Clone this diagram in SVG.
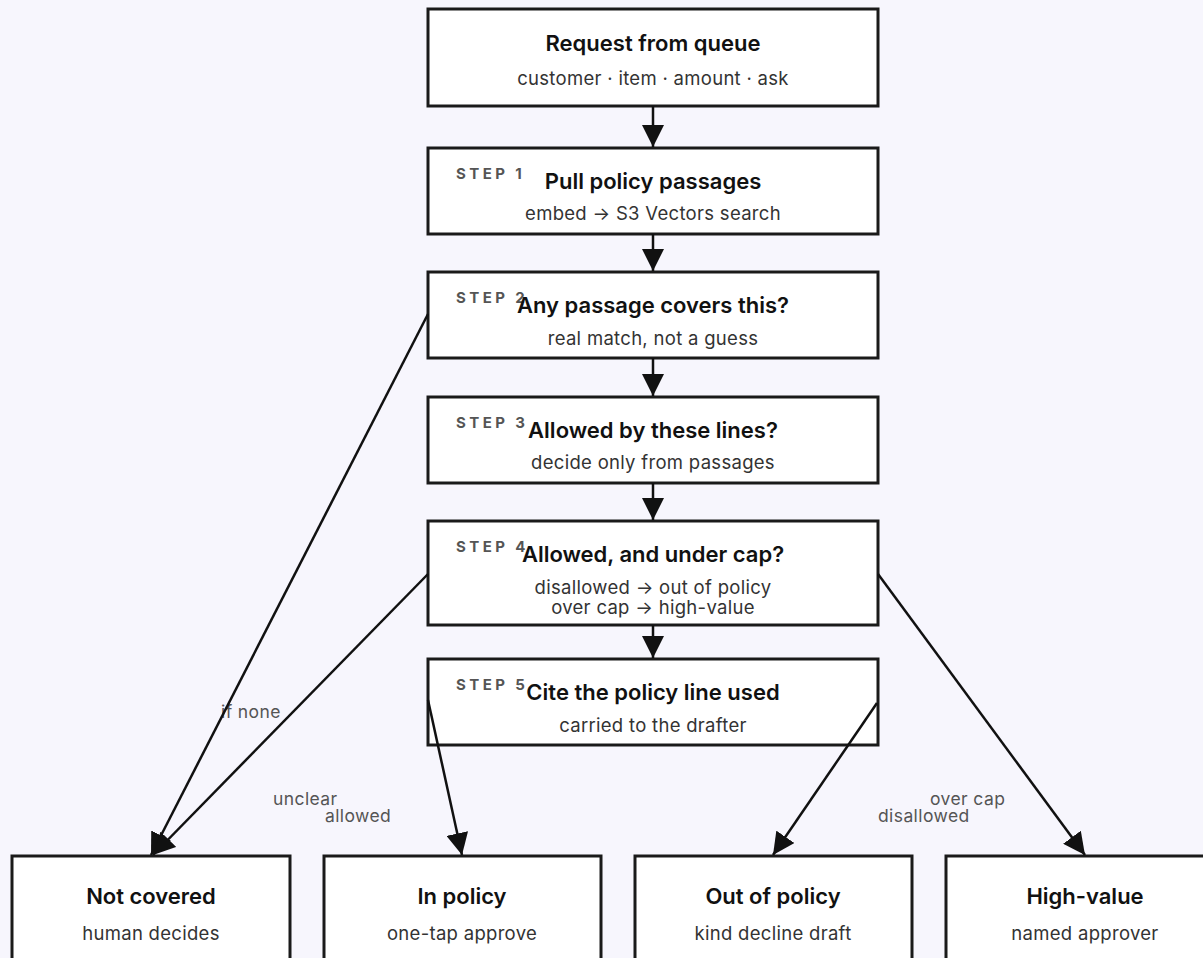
<svg xmlns="http://www.w3.org/2000/svg" width="1203" height="958" viewBox="0 0 1203 958">
  <style>
    .box { fill: #ffffff; stroke: #1a1a1a; stroke-width: 3; }
    .title { font-family: Inter, "Liberation Sans", sans-serif; font-size: 22px; font-weight: 600; fill: #111111; text-anchor: middle; }
    .sub { font-family: Inter, "Liberation Sans", sans-serif; font-size: 18.5px; fill: #333333; text-anchor: middle; letter-spacing: 0.3px; }
    .step { font-family: Inter, "Liberation Sans", sans-serif; font-size: 15px; font-weight: 700; fill: #555555; letter-spacing: 3.4px; }
    .edge { fill: none; stroke: #111111; stroke-width: 2.5; marker-end: url(#arrow); }
    .elabel { font-family: Inter, "Liberation Sans", sans-serif; font-size: 17.5px; fill: #555555; letter-spacing: 0.4px; }
  </style>
  <defs>
    <marker id="arrow" markerUnits="userSpaceOnUse" markerWidth="24" markerHeight="22" refX="22" refY="11" orient="auto">
      <path d="M0,0 L22,11 L0,22 Z" fill="#111111"/>
    </marker>
  </defs>
  <rect width="1203" height="958" fill="#f7f6fd"/>

  <g id="request">
    <rect class="box" x="428" y="9" width="450" height="97"/>
    <text class="title" x="653" y="51">Request from queue</text>
    <text class="sub" x="653" y="85">customer · item · amount · ask</text>
  </g>
  <g id="step1">
    <rect class="box" x="428" y="148" width="450" height="86"/>
    <text class="step" x="456" y="179">STEP 1</text>
    <text class="title" x="653" y="189">Pull policy passages</text>
    <text class="sub" x="653" y="220">embed → S3 Vectors search</text>
  </g>
  <g id="step2">
    <rect class="box" x="428" y="272" width="450" height="86"/>
    <text class="step" x="456" y="303">STEP 2</text>
    <text class="title" x="653" y="313">Any passage covers this?</text>
    <text class="sub" x="653" y="345">real match, not a guess</text>
  </g>
  <g id="step3">
    <rect class="box" x="428" y="397" width="450" height="86"/>
    <text class="step" x="456" y="428">STEP 3</text>
    <text class="title" x="653" y="438">Allowed by these lines?</text>
    <text class="sub" x="653" y="469">decide only from passages</text>
  </g>
  <g id="step4">
    <rect class="box" x="428" y="521" width="450" height="104"/>
    <text class="step" x="456" y="552">STEP 4</text>
    <text class="title" x="653" y="562">Allowed, and under cap?</text>
    <text class="sub" x="653" y="594">disallowed → out of policy</text>
    <text class="sub" x="653" y="614">over cap → high-value</text>
  </g>
  <g id="step5">
    <rect class="box" x="428" y="659" width="450" height="86"/>
    <text class="step" x="456" y="690">STEP 5</text>
    <text class="title" x="653" y="700">Cite the policy line used</text>
    <text class="sub" x="653" y="732">carried to the drafter</text>
  </g>

  <g id="not-covered">
    <rect class="box" x="12" y="856" width="278" height="120"/>
    <text class="title" x="151" y="904">Not covered</text>
    <text class="sub" x="151" y="940">human decides</text>
  </g>
  <g id="in-policy">
    <rect class="box" x="324" y="856" width="277" height="120"/>
    <text class="title" x="462" y="904">In policy</text>
    <text class="sub" x="462" y="940">one-tap approve</text>
  </g>
  <g id="out-of-policy">
    <rect class="box" x="635" y="856" width="277" height="120"/>
    <text class="title" x="773" y="904">Out of policy</text>
    <text class="sub" x="773" y="940">kind decline draft</text>
  </g>
  <g id="high-value">
    <rect class="box" x="946" y="856" width="278" height="120"/>
    <text class="title" x="1085" y="904">High-value</text>
    <text class="sub" x="1085" y="940">named approver</text>
  </g>

  <g id="connectors">
    <text class="elabel" x="221" y="718">if none</text>
    <text class="elabel" x="273" y="805">unclear</text>
    <text class="elabel" x="325" y="822">allowed</text>
    <text class="elabel" x="930" y="805">over cap</text>
    <text class="elabel" x="878" y="822">disallowed</text>
    <line class="edge" x1="653" y1="106" x2="653" y2="147"/>
    <line class="edge" x1="653" y1="234" x2="653" y2="271"/>
    <line class="edge" x1="653" y1="358" x2="653" y2="396"/>
    <line class="edge" x1="653" y1="483" x2="653" y2="520"/>
    <line class="edge" x1="653" y1="625" x2="653" y2="658"/>
    <line class="edge" x1="428" y1="314" x2="151" y2="855"/>
    <line class="edge" x1="428" y1="574" x2="153" y2="855"/>
    <line class="edge" x1="428" y1="700" x2="462" y2="855"/>
    <line class="edge" x1="877" y1="703" x2="773" y2="855"/>
    <line class="edge" x1="878" y1="574" x2="1085" y2="855"/>
  </g>
</svg>
